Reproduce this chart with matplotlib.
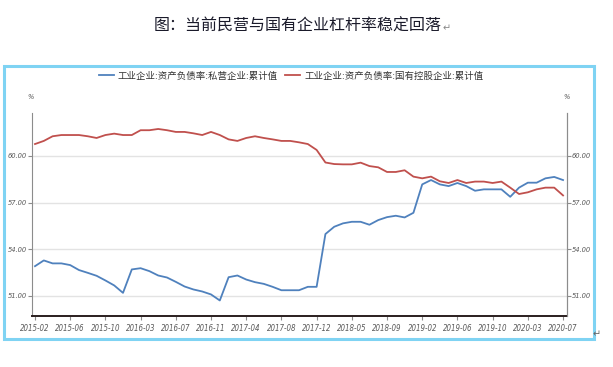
import matplotlib
matplotlib.use("Agg")
import matplotlib.pyplot as plt
from matplotlib.patches import Rectangle
from matplotlib import font_manager

# months (no January in the data series)
months = []
for y in range(2015, 2021):
    for m in range(2, 13):
        if y == 2020 and m > 7:
            break
        months.append(f"{y}-{m:02d}")

private = [52.90, 53.27, 53.08, 53.08, 52.97, 52.65, 52.47, 52.28, 51.98, 51.66,
           51.18, 52.69, 52.77, 52.58, 52.30, 52.17, 51.89, 51.59, 51.40, 51.27,
           51.08, 50.69, 52.19, 52.30, 52.04, 51.87, 51.76, 51.57, 51.35, 51.35,
           51.35, 51.57, 51.57, 54.97, 55.44, 55.66, 55.76, 55.76, 55.57, 55.87,
           56.06, 56.15, 56.04, 56.34, 58.17, 58.45, 58.17, 58.06, 58.26, 58.06,
           57.76, 57.85, 57.85, 57.85, 57.37, 57.96, 58.28, 58.28, 58.56, 58.65,
           58.45]
state = [60.77, 60.97, 61.27, 61.35, 61.35, 61.35, 61.27, 61.16, 61.35, 61.44,
         61.35, 61.35, 61.66, 61.66, 61.74, 61.66, 61.55, 61.55, 61.46, 61.35,
         61.55, 61.35, 61.07, 60.97, 61.16, 61.27, 61.16, 61.07, 60.97, 60.97,
         60.88, 60.77, 60.39, 59.58, 59.48, 59.46, 59.46, 59.57, 59.35, 59.27,
         58.97, 58.97, 59.08, 58.67, 58.56, 58.67, 58.37, 58.26, 58.45, 58.26,
         58.35, 58.35, 58.26, 58.35, 57.96, 57.55, 57.66, 57.85, 57.96, 57.96,
         57.46]
tick_labels = ["2015-02", "2015-06", "2015-10", "2016-03", "2016-07", "2016-11",
               "2017-04", "2017-08", "2017-12", "2018-05", "2018-09", "2019-02",
               "2019-06", "2019-10", "2020-03", "2020-07"]
y_ticks = [51.0, 54.0, 57.0, 60.0]
title = "图：当前民营与国有企业杠杆率稳定回落"
name_private = "工业企业:资产负债率:私营企业:累计值"
name_state = "工业企业:资产负债率:国有控股企业:累计值"

# choose a condensed font if one is installed
narrow_font = None
for f in font_manager.fontManager.ttflist:
    nm = f.name.lower()
    if ("narrow" in nm or "condensed" in nm or f.stretch in ("condensed", "semi-condensed")) \
            and "bold" not in f.style.lower() and f.weight in (400, "normal", "regular"):
        narrow_font = font_manager.FontProperties(fname=f.fname)
        break
if narrow_font is None:
    narrow_font = font_manager.FontProperties(family=["Liberation Sans", "DejaVu Sans"])
x_size, y_size = 5.7, 5.4

W, H = 613, 367
fig = plt.figure(figsize=(W / 100, H / 100), dpi=100)
cjk = ["Noto Sans CJK SC", "DejaVu Sans"]

# outer border
fig.patches.append(Rectangle((3.5 / W, 1 - 339 / H), 590 / W, 273 / H,
                             transform=fig.transFigure, fill=False,
                             edgecolor="#7fd3f3", linewidth=2.2))

fig.text(298 / W, 1 - 26 / H, title, ha="center", va="center", fontsize=11.5,
         family=cjk, color="#1a1a2a")
fig.text(447 / W, 1 - 28 / H, "↵", ha="center", va="center", fontsize=7,
         family=["DejaVu Sans"], color="#888888")
fig.text(597 / W, 1 - 334 / H, "↵", ha="center", va="center", fontsize=7,
         family=["DejaVu Sans"], color="#666666")

l, r, t, b = 32, 567, 113.3, 316
ax = fig.add_axes([l / W, 1 - b / H, (r - l) / W, (b - t) / H])
x = list(range(len(months)))
ax.plot(x, private, color="#4f81bd", lw=1.3, label=name_private)
ax.plot(x, state, color="#c0504d", lw=1.3, label=name_state)
ax.set_xlim(-0.34, 60.45)
ax.set_ylim(49.69, 62.75)
ax.set_yticks(y_ticks)
ax.set_yticklabels([f"{v:.2f}" for v in y_ticks])
ax.grid(axis="y", color="#e3e3e3", lw=1)
ax.set_axisbelow(True)
xt = [months.index(s) for s in tick_labels]
ax.set_xticks(xt)
ax.set_xticklabels(tick_labels)
ax.spines["top"].set_visible(False)
ax.spines["bottom"].set_color("#2a1e1e")
ax.spines["bottom"].set_linewidth(1.4)
ax.spines["left"].set_color("#8c8c8c")
ax.spines["right"].set_color("#8c8c8c")
ax.tick_params(axis="x", length=3, color="#8c8c8c", pad=3)
ax.tick_params(axis="y", length=3, color="#8c8c8c", pad=0.5)
for lab in ax.get_xticklabels():
    lab.set_fontproperties(narrow_font)
    lab.set_fontsize(x_size)
    lab.set_color("#595959")
for lab in ax.get_yticklabels():
    lab.set_fontproperties(narrow_font)
    lab.set_fontsize(y_size)
    lab.set_color("#595959")

ax2 = ax.twinx()
ax2.set_ylim(ax.get_ylim())
ax2.set_yticks(y_ticks)
ax2.set_yticklabels([f"{v:.2f}" for v in y_ticks])
for s in ["top", "left", "bottom"]:
    ax2.spines[s].set_visible(False)
ax2.spines["right"].set_color("#8c8c8c")
ax2.tick_params(axis="y", length=3, color="#8c8c8c", pad=0.5)
for lab in ax2.get_yticklabels():
    lab.set_fontproperties(narrow_font)
    lab.set_fontsize(y_size)
    lab.set_color("#595959")

for xp in (31, 567):
    tx = fig.text(xp / W, 1 - 97 / H, "%", ha="center", va="center",
                  color="#595959")
    tx.set_fontproperties(narrow_font)
    tx.set_fontsize(y_size)

leg = ax.legend(loc="center", bbox_to_anchor=((291 - l) / (r - l), 1 + (t - 76) / (b - t)),
                ncol=2, frameon=False, prop={"family": cjk, "size": 6.8},
                handlelength=1.6, handletextpad=0.4, columnspacing=0.8,
                borderaxespad=0)
for txt in leg.get_texts():
    txt.set_color("#333333")

fig.savefig("out.png", dpi=100)
